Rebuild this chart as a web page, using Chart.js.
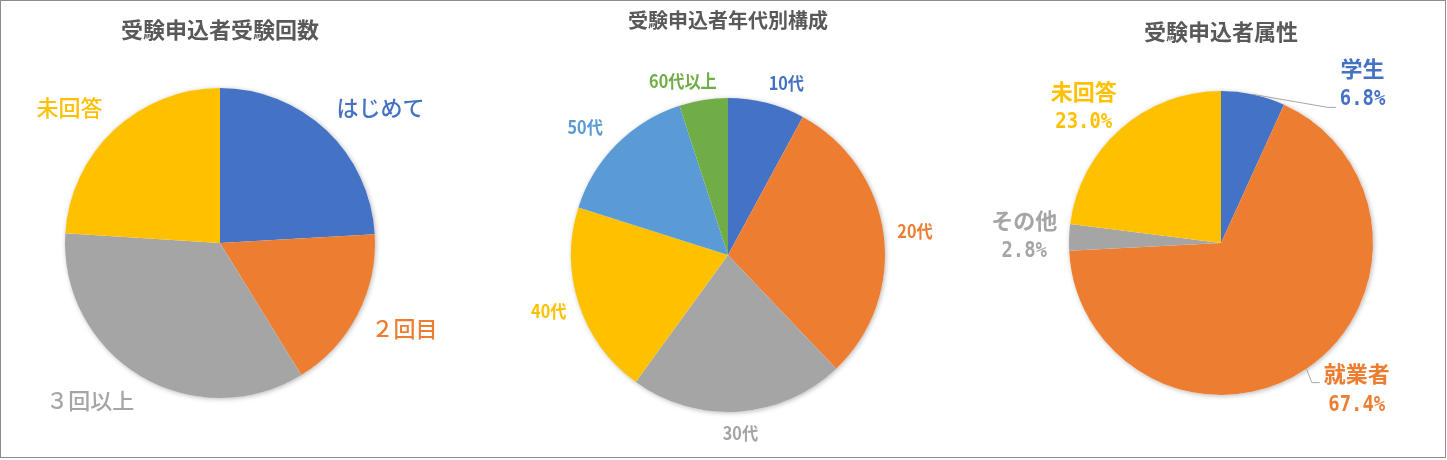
<!DOCTYPE html>
<html>
<head>
<meta charset="utf-8">
<script src="https://cdn.jsdelivr.net/npm/chart.js@4.4.0/dist/chart.umd.min.js"></script>
<style>
body{margin:0;background:#fff;}
#frame{position:absolute;left:0;top:0;width:1446px;height:458px;border:1px solid #8c8c8c;box-sizing:border-box;}
canvas{position:absolute;top:0;}
</style>
</head>
<body>
<div id="frame"></div>
<canvas id="c1" width="480" height="460" style="left:0px"></canvas>
<canvas id="c2" width="480" height="460" style="left:480px"></canvas>
<canvas id="c3" width="487" height="460" style="left:960px"></canvas>
<script>
// data
var countLabels = ['はじめて', '２回目', '３回以上', '未回答'];
var countValues = [24.1, 17.1, 34.8, 24.0];

var ageLabels = ['10代', '20代', '30代', '40代', '50代', '60代以上'];
var ageValues = [7.9, 30.0, 22.1, 19.9, 15.1, 5.0];

var attrLabels = ['学生', '就業者', 'その他', '未回答'];
var attrValues = [6.8, 67.4, 2.8, 23.0];

var BLUE = '#4472C4', ORANGE = '#ED7D31', GRAY = '#A5A5A5', GOLD = '#FFC000', LBLUE = '#5B9BD5', GREEN = '#70AD47';
var JP = '"Noto Sans CJK JP", "Noto Sans", sans-serif';

// soft shadow under the whole pie
var pieShadow = {
	id: 'pieShadow',
	beforeDatasetsDraw: function(chart) {
		var arc = chart.getDatasetMeta(0).data[0];
		if (!arc) return;
		var ctx = chart.ctx;
		ctx.save();
		ctx.shadowColor = 'rgba(0,0,0,0.28)';
		ctx.shadowBlur = 5;
		ctx.shadowOffsetX = 1;
		ctx.shadowOffsetY = 1;
		ctx.fillStyle = '#fff';
		ctx.beginPath();
		ctx.arc(arc.x, arc.y, arc.outerRadius, 0, Math.PI * 2);
		ctx.fill();
		ctx.restore();
	}
};

// category (and percent) labels outside each slice
var sliceLabels = {
	id: 'sliceLabels',
	afterDatasetsDraw: function(chart, args, opts) {
		var ctx = chart.ctx;
		var meta = chart.getDatasetMeta(0);
		var ds = chart.data.datasets[0];
		meta.data.forEach(function(arc, i) {
			var mid = (arc.startAngle + arc.endAngle) / 2;
			var cx = Math.cos(mid), cy = Math.sin(mid);
			var name = chart.data.labels[i];
			var pct = opts.percent ? ds.data[i].toFixed(1) + '%' : null;

			ctx.save();
			ctx.font = opts.font;
			var w = ctx.measureText(name).width * opts.scaleX;
			if (pct) {
				ctx.font = opts.pctFont;
				w = Math.max(w, ctx.measureText(pct).width * opts.pctScaleX);
			}
			var h = opts.blockHeight;
			var d = arc.outerRadius + opts.gap;
			var nd = (opts.nudge && opts.nudge[i]) || [0, 0];
			var x = arc.x + cx * (d + w / 2) + nd[0];
			var y = arc.y + cy * (d + h / 2) + nd[1];

			// leader line for labels pulled away from their slice
			if (opts.leaders && Math.abs(nd[0]) + Math.abs(nd[1]) > 30) {
				var sx = arc.x + cx * arc.outerRadius, sy = arc.y + cy * arc.outerRadius;
				var left = x - w / 2;
				var ey = y < sy ? y + 23 : y - 7;
				ctx.strokeStyle = '#A6A6A6';
				ctx.lineWidth = 1;
				ctx.beginPath();
				ctx.moveTo(sx, sy);
				ctx.lineTo(left - 12, ey);
				ctx.lineTo(left - 4, ey);
				ctx.stroke();
			}

			ctx.fillStyle = ds.backgroundColor[i];
			ctx.textAlign = 'center';
			ctx.textBaseline = 'middle';
			ctx.font = opts.font;
			ctx.save();
			ctx.translate(x, pct ? y - opts.lineGap / 2 : y);
			ctx.scale(opts.scaleX, 1);
			ctx.fillText(name, 0, 0);
			ctx.restore();
			if (pct) {
				ctx.font = opts.pctFont;
				ctx.save();
				ctx.translate(x, y + opts.lineGap / 2);
				ctx.scale(opts.pctScaleX, 1);
				ctx.fillText(pct, 0, 0);
				ctx.restore();
			}
			ctx.restore();
		});
	}
};

function makePie(id, title, titleSize, titlePad, labels, values, colors, padding, labelOpts) {
	return new Chart(document.getElementById(id), {
		type: 'pie',
		data: {
			labels: labels,
			datasets: [{
				data: values,
				backgroundColor: colors,
				borderWidth: 0
			}]
		},
		options: {
			responsive: false,
			animation: false,
			layout: { padding: padding },
			plugins: {
				legend: { display: false },
				tooltip: { enabled: false },
				title: {
					display: true,
					text: title,
					color: '#595959',
					font: { family: JP, size: titleSize, weight: 'bold' },
					padding: titlePad
				},
				sliceLabels: labelOpts
			}
		},
		plugins: [pieShadow, sliceLabels]
	});
}

makePie('c1', '受験申込者受験回数', 22, { top: 16, bottom: 45.6 },
	countLabels, countValues, [BLUE, ORANGE, GRAY, GOLD],
	{ left: 65, right: 105, top: 0, bottom: 62 },
	{ font: '500 22px ' + JP, scaleX: 1, gap: 20, blockHeight: 22,
	  nudge: [[10, 0], [0, 0], [-17, -2], [-8, 0]] });

makePie('c2', '受験申込者年代別構成', 20, { top: 8.5, bottom: 65.5 },
	ageLabels, ageValues, [BLUE, ORANGE, GRAY, GOLD, LBLUE, GREEN],
	{ left: 91, right: 75, top: 0, bottom: 48 },
	{ font: 'bold 18px ' + JP, scaleX: 0.9, gap: 14, blockHeight: 16,
	  nudge: [[12, 2], [0, 0], [0, 0], [0, 0], [-9, -2], [-13, 3]] });

makePie('c3', '受験申込者属性', 22, { top: 18.3, bottom: 46.3 },
	attrLabels, attrValues, [BLUE, ORANGE, GRAY, GOLD],
	{ left: 109, right: 74, top: 0, bottom: 65 },
	{ font: 'bold 22px ' + JP, scaleX: 1, percent: true,
	  pctFont: 'bold 21px "DejaVu Sans Mono", monospace', pctScaleX: 0.9,
	  gap: 12, blockHeight: 58, lineGap: 31, leaders: true,
	  nudge: [[102, 30], [25, -13], [0, 0], [-7, 9]] });
</script>
</body>
</html>
